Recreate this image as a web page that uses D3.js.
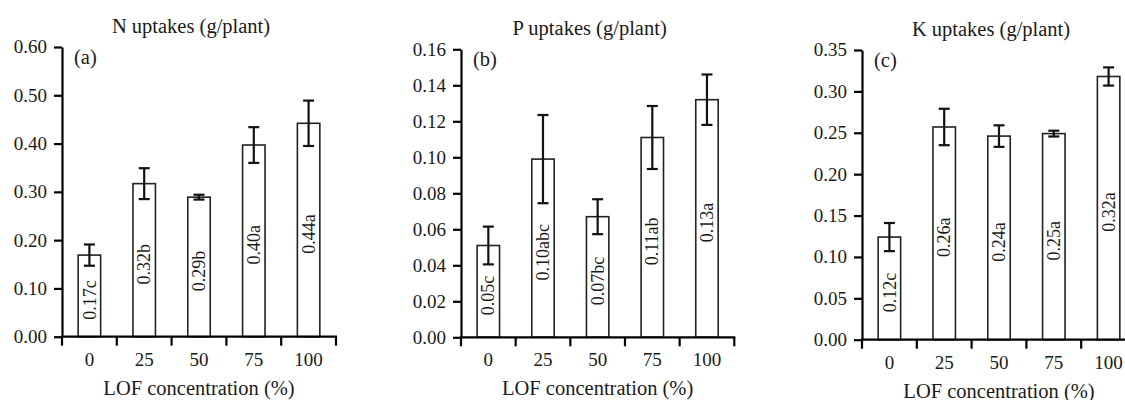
<!DOCTYPE html>
<html>
<head>
<meta charset="utf-8">
<script src="https://cdn.jsdelivr.net/npm/d3@7"></script>
<style>
  body { margin: 0; background: #fff; }
  svg { display: block; }
</style>
</head>
<body>
<svg id="chart" width="1125" height="400"></svg>
<script>
// LOF concentration groups
const CONC = ["0", "25", "50", "75", "100"];

// N uptakes (g/plant)
const N_MEAN = [0.169, 0.317, 0.289, 0.397, 0.442];
const N_ERR = [0.022, 0.032, 0.005, 0.037, 0.047];
const N_LABELS = ["0.17c", "0.32b", "0.29b", "0.40a", "0.44a"];
const N_TICKS = [0, 0.1, 0.2, 0.3, 0.4, 0.5, 0.6];

// P uptakes (g/plant)
const P_MEAN = [0.051, 0.099, 0.067, 0.111, 0.132];
const P_ERR = [0.0105, 0.0245, 0.0097, 0.0175, 0.014];
const P_LABELS = ["0.05c", "0.10abc", "0.07bc", "0.11ab", "0.13a"];
const P_TICKS = [0, 0.02, 0.04, 0.06, 0.08, 0.10, 0.12, 0.14, 0.16];

// K uptakes (g/plant)
const K_MEAN = [0.124, 0.257, 0.246, 0.249, 0.318];
const K_ERR = [0.017, 0.022, 0.013, 0.0035, 0.011];
const K_LABELS = ["0.12c", "0.26a", "0.24a", "0.25a", "0.32a"];
const K_TICKS = [0, 0.05, 0.10, 0.15, 0.20, 0.25, 0.30, 0.35];

const FONT = "Liberation Serif";
const TICK_FS = 19;
const TITLE_FS = 20.5;
const BAR_FS = 18;

const svg = d3.select("#chart").attr("font-family", FONT);

// panel frames (pixels)
const panels = [
  { title: "N uptakes (g/plant)", tag: "(a)", mean: N_MEAN, err: N_ERR, labels: N_LABELS, ticks: N_TICKS,
    left: 62, right: 336, top: 47, bottom: 336.7 },
  { title: "P uptakes (g/plant)", tag: "(b)", mean: P_MEAN, err: P_ERR, labels: P_LABELS, ticks: P_TICKS,
    left: 461, right: 734.3, top: 49.3, bottom: 337.3 },
  { title: "K uptakes (g/plant)", tag: "(c)", mean: K_MEAN, err: K_ERR, labels: K_LABELS, ticks: K_TICKS,
    left: 862, right: 1136, top: 50, bottom: 339.7 }
];

function label(parent, txt, x, y, opts = {}) {
  const rot = opts.rot ? ` rotate(${opts.rot})` : "";
  return parent.append("text")
    .text(txt)
    .attr("font-family", FONT)
    .attr("font-size", opts.size || TICK_FS)
    .attr("fill", "#1a1a1a")
    .attr("text-anchor", opts.anchor || "middle")
    .attr("dy", "0.34em")
    .attr("transform", `translate(${x},${y})` + rot);
}

panels.forEach(p => {
  const g = svg.append("g");
  const data = CONC.map((c, i) => ({ c, m: p.mean[i], e: p.err[i], lab: p.labels[i] }));

  const x = d3.scaleBand().domain(CONC).range([p.left, p.right])
    .paddingInner(0.59).paddingOuter(0.295);
  const y = d3.scaleLinear().domain([0, d3.max(p.ticks)]).range([p.bottom, p.top]);
  const step = x.step();
  const cx = d => x(d) + x.bandwidth() / 2;

  // bars
  g.append("g").selectAll("rect").data(data).enter().append("rect")
    .attr("x", d => x(d.c))
    .attr("y", d => y(d.m))
    .attr("width", x.bandwidth())
    .attr("height", d => y(0) - y(d.m))
    .attr("fill", "#fff")
    .attr("stroke", "#222")
    .attr("stroke-width", 1.6);

  // error bars
  const eb = g.append("g").attr("stroke", "#111").attr("stroke-width", 2.2);
  data.forEach(d => {
    const c = cx(d.c);
    eb.append("line").attr("x1", c).attr("x2", c).attr("y1", y(d.m + d.e)).attr("y2", y(d.m - d.e));
    eb.append("line").attr("x1", c - 5.5).attr("x2", c + 5.5).attr("y1", y(d.m + d.e)).attr("y2", y(d.m + d.e));
    eb.append("line").attr("x1", c - 5.5).attr("x2", c + 5.5).attr("y1", y(d.m - d.e)).attr("y2", y(d.m - d.e));
  });

  // value labels inside bars
  data.forEach(d => {
    label(g, d.lab, cx(d.c), (y(d.m) + y(0)) / 2 + 4, { rot: -90, size: BAR_FS });
  });

  // y axis (line + ticks from d3, labels drawn below)
  const yAxis = g.append("g").attr("transform", `translate(${p.left},0)`)
    .call(d3.axisLeft(y).tickValues(p.ticks).tickFormat("").tickSize(8).tickSizeOuter(0));
  yAxis.selectAll("path, line").attr("stroke", "#000").attr("stroke-width", 2.2);
  p.ticks.forEach(t => label(g, d3.format(".2f")(t), p.left - 15, y(t), { anchor: "end" }));

  // x axis line with ticks at group boundaries
  const xa = g.append("g").attr("stroke", "#000").attr("stroke-width", 2.2);
  xa.append("line").attr("x1", p.left - 1).attr("x2", p.right + 1).attr("y1", p.bottom).attr("y2", p.bottom);
  d3.range(CONC.length + 1).forEach(i => {
    const tx = p.left + i * step;
    xa.append("line").attr("x1", tx).attr("x2", tx).attr("y1", p.bottom).attr("y2", p.bottom + 9);
  });

  // x tick labels
  CONC.forEach(c => label(g, c, cx(c), p.bottom + 22.5));

  // x axis title
  label(g, "LOF concentration (%)", (p.left + p.right) / 2, p.bottom + 51, { size: TITLE_FS });

  // panel title
  label(g, p.title, (p.left + p.right) / 2 - 8, p.top - 21, { size: TITLE_FS });

  // panel tag
  label(g, p.tag, p.left + 12, p.top + 10, { anchor: "start", size: TITLE_FS });
});
</script>
</body>
</html>
